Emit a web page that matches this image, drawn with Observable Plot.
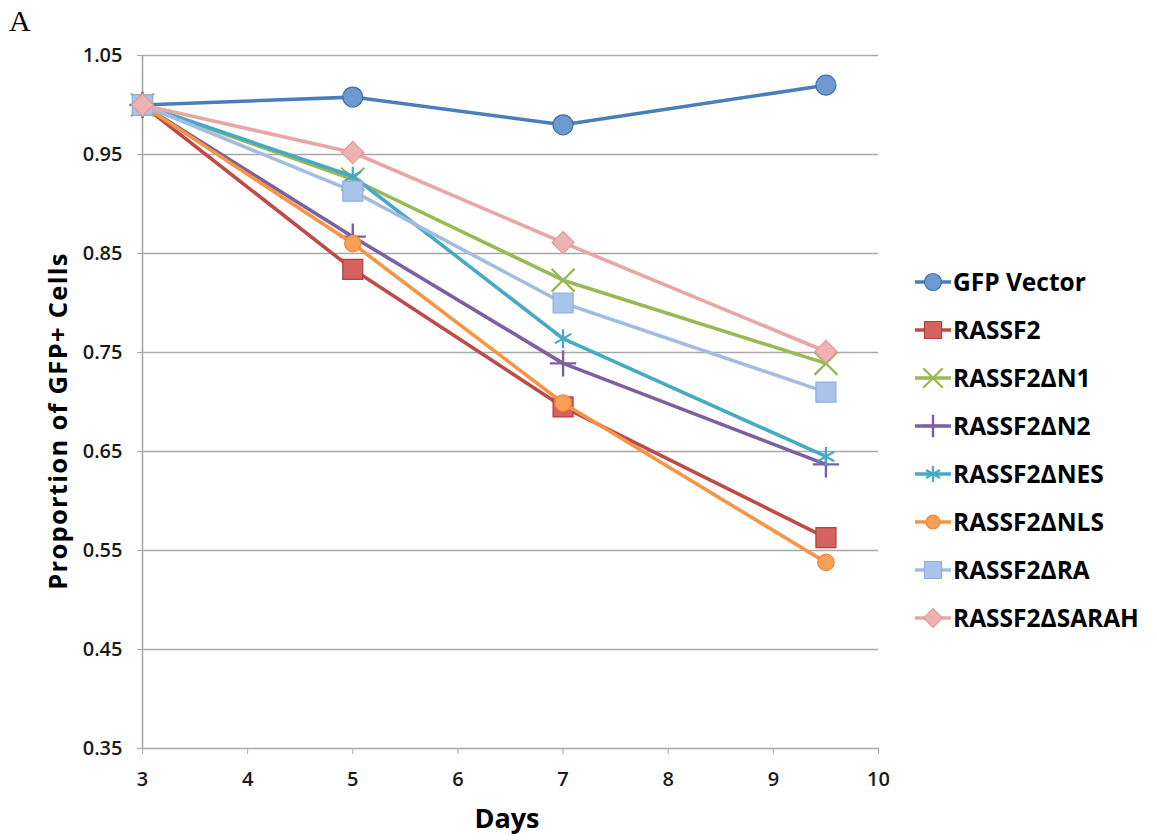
<!DOCTYPE html>
<html>
<head>
<meta charset="utf-8">
<script src="https://cdn.jsdelivr.net/npm/d3@7"></script>
<script src="https://cdn.jsdelivr.net/npm/@observablehq/plot@0.6"></script>
<style>
  html, body { margin: 0; padding: 0; background: #fff; }
  #wrap { position: relative; width: 1157px; height: 840px; }
  #overlay { position: absolute; left: 0; top: 0; pointer-events: none; }
</style>
</head>
<body>
<div id="wrap"></div>
<script>
// ---- data ----
const days = [3, 5, 7, 9.5];
const seriesNames = ["GFP Vector", "RASSF2", "RASSF2ΔN1", "RASSF2ΔN2", "RASSF2ΔNES", "RASSF2ΔNLS", "RASSF2ΔRA", "RASSF2ΔSARAH"];
const gfpVector  = [1.000, 1.008, 0.980, 1.020];
const rassf2     = [1.000, 0.834, 0.695, 0.563];
const rassf2dN1  = [1.000, 0.925, 0.823, 0.739];
const rassf2dN2  = [1.000, 0.867, 0.739, 0.637];
const rassf2dNES = [1.000, 0.928, 0.764, 0.645];
const rassf2dNLS = [1.000, 0.860, 0.699, 0.538];
const rassf2dRA  = [1.000, 0.913, 0.800, 0.710];
const rassf2dSARAH = [1.000, 0.952, 0.861, 0.751];
const xTicks = [3, 4, 5, 6, 7, 8, 9, 10];
const yTicks = [0.35, 0.45, 0.55, 0.65, 0.75, 0.85, 0.95, 1.05];
const xTitle = "Days";
const yTitle = "Proportion of GFP+ Cells";
const panelLabel = "A";

// ---- styles ----
const values = [gfpVector, rassf2, rassf2dN1, rassf2dN2, rassf2dNES, rassf2dNLS, rassf2dRA, rassf2dSARAH];
const lineColors = ["#4A7EBB", "#BE4B48", "#98B954", "#7D60A0", "#46AAC5", "#F69545", "#A3BDE2", "#E8A7A6"];
const markerFill = ["#6E9AD0", "#D4625F", "none", "none", "none", "#F8A057", "#A9C4EA", "#EDB2B1"];
const markerStroke = ["#3F6EA8", "#B0413E", "#98B954", "#7D60A0", "#46AAC5", "#E88A3C", "#93AFD8", "#DE9C9B"];
const symbols = ["circle", "square", "times", "plus", "asterisk", "circle", "square", "diamond2"];
const radii = [10, 11.3, 10.5, 8.5, 9, 8.2, 11.3, 10];
const markerWidth = [1.2, 1.2, 2.4, 2.4, 2.2, 1.2, 1.2, 1.2];

const rows = seriesNames.flatMap((name, i) => days.map((d, j) => ({series: name, day: d, value: values[i][j]})));

const seriesMarks = seriesNames.flatMap((name, i) => {
  const data = rows.filter(r => r.series === name);
  return [
    Plot.line(data, {x: "day", y: "value", stroke: lineColors[i], strokeWidth: 3.6}),
    Plot.dot(data, {x: "day", y: "value", symbol: () => symbols[i], r: radii[i], fill: markerFill[i], stroke: markerStroke[i], strokeWidth: markerWidth[i]})
  ];
});

const chart = Plot.plot({
  width: 1157,
  height: 840,
  marginLeft: 142,
  marginRight: 279,
  marginTop: 55,
  marginBottom: 92,
  style: {fontFamily: "'Open Sans', sans-serif", fontSize: "20px", background: "#fff", color: "#1a1a1a"},
  x: {domain: [3, 10]},
  y: {domain: [0.35, 1.05]},
  symbol: {type: "identity"},
  marks: [
    Plot.ruleY(yTicks.filter(v => v > 0.35), {stroke: "#A8A8A8", strokeWidth: 1.6}),
    Plot.ruleX([3], {stroke: "#A8A8A8", strokeWidth: 1.6}),
    Plot.ruleY([0.35], {stroke: "#A8A8A8", strokeWidth: 1.6}),
    Plot.axisX({ticks: xTicks, tickSize: 6, tickPadding: 17, stroke: "#A8A8A8", fill: "#1a1a1a", fontSize: 20, fontWeight: 600, label: null, tickFormat: d => String(d)}),
    Plot.axisY({ticks: yTicks, tickSize: 5, tickPadding: 15, stroke: "#A8A8A8", fill: "#1a1a1a", fontSize: 20, fontWeight: 600, label: null, tickFormat: d => d.toFixed(2)}),
    ...seriesMarks
  ]
});

const wrap = document.getElementById("wrap");
wrap.appendChild(chart);

// ---- overlay: titles and legend ----
const svg = d3.select(wrap).append("svg")
  .attr("id", "overlay")
  .attr("width", 1157).attr("height", 840);

svg.append("text")
  .attr("x", 9).attr("y", 31)
  .attr("font-family", "'Liberation Serif', 'Times New Roman', serif")
  .attr("font-size", 30)
  .attr("fill", "#000")
  .text(panelLabel);

svg.append("text")
  .attr("x", 507).attr("y", 828)
  .attr("text-anchor", "middle")
  .attr("font-family", "'Open Sans', sans-serif")
  .attr("font-weight", "bold")
  .attr("font-size", 27)
  .attr("fill", "#000")
  .text(xTitle);

svg.append("text")
  .attr("transform", "translate(67,421) rotate(-90)")
  .attr("text-anchor", "middle")
  .attr("font-family", "'Open Sans', sans-serif")
  .attr("font-weight", "bold")
  .attr("font-size", 25.5)
  .attr("letter-spacing", "1.3px")
  .attr("fill", "#000")
  .text(yTitle);

const symbolMap = {circle: d3.symbolCircle, square: d3.symbolSquare, times: d3.symbolTimes, plus: d3.symbolPlus, asterisk: d3.symbolAsterisk, diamond2: d3.symbolDiamond2};
const legend = svg.append("g");
seriesNames.forEach((name, i) => {
  const y = 282 + 48 * i;
  const g = legend.append("g").attr("transform", `translate(0,${y})`);
  g.append("line").attr("x1", 915).attr("x2", 951).attr("y1", 0).attr("y2", 0)
    .attr("stroke", lineColors[i]).attr("stroke-width", 3.6);
  const rr = radii[i] * 0.85;
  g.append("path")
    .attr("transform", "translate(933,0)")
    .attr("d", d3.symbol(symbolMap[symbols[i]], rr * rr * Math.PI)())
    .attr("fill", markerFill[i]).attr("stroke", markerStroke[i]).attr("stroke-width", markerWidth[i]);
  g.append("text")
    .attr("x", 953).attr("y", 0).attr("dy", "0.36em")
    .attr("font-family", "'Open Sans', sans-serif")
    .attr("font-weight", "bold")
    .attr("font-size", 24.5)
    .attr("fill", "#000")
    .text(name);
});
</script>
</body>
</html>
